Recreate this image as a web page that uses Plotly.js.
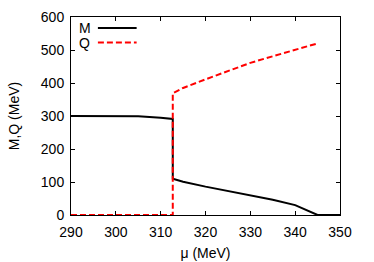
<!DOCTYPE html>
<html><head><meta charset="utf-8">
<script src="https://cdn.plot.ly/plotly-3.0.1.min.js"></script>
<style>html,body{margin:0;padding:0;background:#fff}#chart{width:374px;height:262px}</style>
</head><body><div id="chart"></div>
<script>
const muM = [290, 295, 300, 305, 310, 312.7, 312.7, 315, 320, 325, 330, 335, 340, 345, 350];
const valM = [300, 300, 300, 299, 295, 291, 110, 101, 86, 73, 60, 46, 30, 0, 0];
const muQ = [290, 312.7, 312.7, 315, 320, 325, 330, 335, 340, 345];
const valQ = [0, 0, 369, 385, 411, 437, 461, 481, 500, 520];
const names = ["M", "Q"];

const FONT = "Liberation Sans, Arial, sans-serif";
const traces = [
  {x: muM, y: valM, mode: "lines", name: names[0], line: {color: "#000", width: 2}},
  {x: muQ, y: valQ, mode: "lines", name: names[1], line: {color: "#ff0000", width: 2, dash: "6px,3px"}}
];
const ax = {
  showline: true, mirror: "ticks", linecolor: "#000", linewidth: 1,
  ticks: "inside", ticklen: 4, tickcolor: "#000", showgrid: false, zeroline: false,
  tickfont: {family: FONT, size: 14, color: "#000"}
};
const layout = {
  width: 374, height: 262,
  margin: {l: 71, r: 34, t: 17, b: 47},
  paper_bgcolor: "#fff", plot_bgcolor: "#fff",
  showlegend: false,
  font: {family: FONT, color: "#000"},
  xaxis: Object.assign({}, ax, {range: [290, 350], tickvals: [290, 300, 310, 320, 330, 340, 350],
    ticklabelstandoff: 4,
    title: {text: "μ (MeV)", font: {size: 14}, standoff: 9}}),
  yaxis: Object.assign({}, ax, {range: [0, 600], tickvals: [0, 100, 200, 300, 400, 500, 600],
    ticklabelstandoff: 3,
    title: {text: "M,Q (MeV)", font: {size: 14}, standoff: 17}}),
  annotations: [
    {xref: "paper", yref: "paper", x: 0.022, y: 0.944, text: names[0], showarrow: false, xanchor: "left", yanchor: "middle", font: {size: 14}},
    {xref: "paper", yref: "paper", x: 0.022, y: 0.871, text: names[1], showarrow: false, xanchor: "left", yanchor: "middle", font: {size: 14}}
  ],
  shapes: [
    {type: "line", xref: "paper", yref: "paper", x0: 0.1, x1: 0.244, y0: 0.944, y1: 0.944, line: {color: "#000", width: 2}},
    {type: "line", xref: "paper", yref: "paper", x0: 0.1, x1: 0.244, y0: 0.871, y1: 0.871, line: {color: "#ff0000", width: 2, dash: "6px,3px"}}
  ]
};
Plotly.newPlot("chart", traces, layout, {staticPlot: true});
</script></body></html>
